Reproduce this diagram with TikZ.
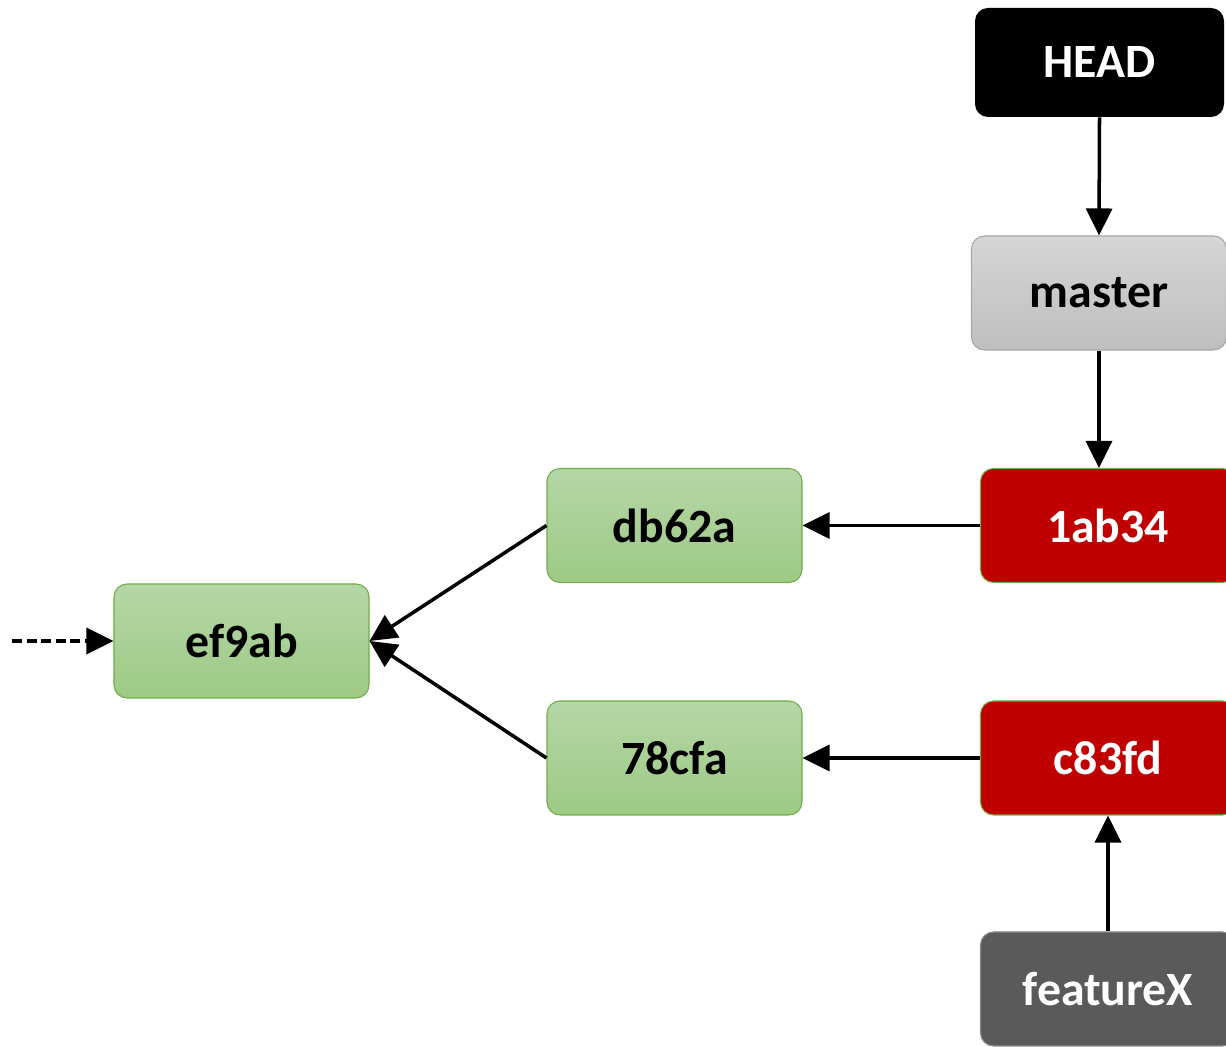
\documentclass[tikz,border=0pt]{standalone}
\usepackage{fontspec}
\setmainfont{Carlito}
\usepackage{tikz}
\usetikzlibrary{arrows.meta, positioning}

\definecolor{commitgreenT}{HTML}{B5D6A7}
\definecolor{commitgreenB}{HTML}{9DCA84}
\definecolor{commitborder}{HTML}{70AD47}
\definecolor{tipred}{HTML}{C00000}
\definecolor{branchgrayT}{HTML}{D6D6D6}
\definecolor{branchgrayB}{HTML}{BEBEBE}
\definecolor{featgray}{HTML}{5A5A5A}

\begin{document}
\begin{tikzpicture}[
        box/.style={rounded corners=0.26cm, minimum width=5.1cm, minimum height=2.28cm,
                    font=\fontsize{27.2}{31}\selectfont\bfseries, inner sep=0pt},
        commit/.style={box, draw=commitborder, line width=0.6pt,
                       top color=commitgreenT, bottom color=commitgreenB, text=black},
        tip/.style={box, draw=commitborder, line width=0.6pt, fill=tipred, text=white},
        headbox/.style={box, fill=black, text=white, minimum width=4.98cm, minimum height=2.18cm},
        branch/.style={box, draw=black!35, line width=0.6pt,
                       top color=branchgrayT, bottom color=branchgrayB, text=black},
        featbox/.style={box, draw=black!45, line width=0.6pt, fill=featgray, text=white},
        arrow/.style={-{Triangle[length=0.54cm, width=0.52cm]}, line width=2pt}
    ]
    \useasboundingbox (0,0) rectangle (24.52,20.94);
    \clip (0,0) rectangle (24.52,20.94);

    % ---- Pointers ----
    \node[headbox] (HEAD)   at (21.99, 19.69) {HEAD};
    \node[branch]  (master) at (21.98, 15.08) {master};
    \node[featbox] (featX)  at (22.16,  1.16) {featureX};

    % ---- Commits ----
    \node[tip]    (c1ab34) at (22.16, 10.43) {1ab34};
    \node[tip]    (cc83fd) at (22.16,  5.78) {c83fd};
    \node[commit] (cdb62a) at (13.49, 10.43) {db62a};
    \node[commit] (c78cfa) at (13.49,  5.78) {78cfa};
    \node[commit] (cef9ab) at ( 4.83,  8.12) {ef9ab};
    \coordinate (older) at (0.24, 8.12);

    % ---- Arrows ----
    \draw[arrow] (HEAD.south) -- (master.north);
    \draw[arrow] (master.south) -- (master.south |- c1ab34.north);
    \draw[arrow] (featX.north) -- (cc83fd.south);
    \draw[arrow] (c1ab34.west) -- (cdb62a.east);
    \draw[arrow] (cc83fd.west) -- (c78cfa.east);
    \draw[arrow] (cdb62a.west) -- (cef9ab.east);
    \draw[arrow] (c78cfa.west) -- (cef9ab.east);
    \draw[arrow, dash pattern=on 0.2cm off 0.09cm] (older) -- (cef9ab.west);

    \end{tikzpicture}
\end{document}
